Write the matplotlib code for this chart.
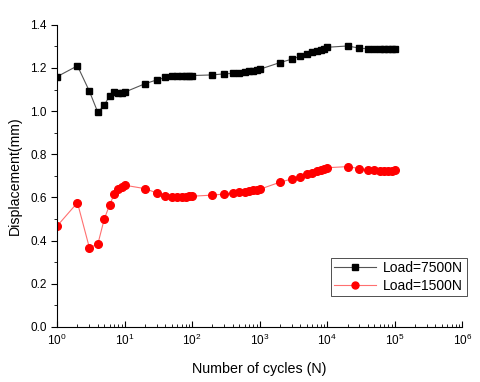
import numpy as np
import matplotlib.pyplot as plt
from matplotlib.ticker import FixedLocator, LogLocator, MultipleLocator

plt.rcParams["font.family"] = ["Liberation Sans", "DejaVu Sans"]

# ciclos (comunes a ambas series)
cycles = [1, 2, 3, 4, 5, 6, 7, 8, 9, 10,
          20, 30, 40, 50, 60, 70, 80, 90, 100,
          200, 300, 400, 500, 600, 700, 800, 900, 1000,
          2000, 3000, 4000, 5000, 6000, 7000, 8000, 9000, 10000,
          20000, 30000, 40000, 50000, 60000, 70000, 80000, 90000, 100000]

# desplazamiento (mm) - Load=7500N
disp_7500 = [1.160, 1.210, 1.093, 0.995, 1.028, 1.072, 1.091, 1.086, 1.086, 1.088,
             1.127, 1.145, 1.156, 1.161, 1.162, 1.163, 1.164, 1.164, 1.165,
             1.168, 1.173, 1.175, 1.178, 1.181, 1.184, 1.187, 1.190, 1.194,
             1.225, 1.241, 1.255, 1.265, 1.273, 1.279, 1.284, 1.289, 1.296,
             1.302, 1.292, 1.289, 1.287, 1.287, 1.286, 1.286, 1.286, 1.287]

# desplazamiento (mm) - Load=1500N
disp_1500 = [0.468, 0.576, 0.368, 0.383, 0.501, 0.566, 0.615, 0.640, 0.650, 0.657,
             0.641, 0.621, 0.607, 0.601, 0.602, 0.603, 0.604, 0.605, 0.606,
             0.611, 0.616, 0.620, 0.624, 0.627, 0.630, 0.633, 0.635, 0.638,
             0.671, 0.686, 0.697, 0.708, 0.715, 0.721, 0.727, 0.732, 0.738,
             0.743, 0.734, 0.728, 0.726, 0.725, 0.725, 0.725, 0.725, 0.726]

x_ticks = [1e0, 1e1, 1e2, 1e3, 1e4, 1e5, 1e6]

fig = plt.figure(figsize=(4.8, 3.82), dpi=100)
ax = fig.add_axes([0.119, 0.144, 0.844, 0.791])

ax.plot(cycles, disp_7500, color="#555555", lw=0.8, marker="s", ms=5,
        mfc="black", mec="black", label="Load=7500N")
ax.plot(cycles, disp_1500, color="#ff7070", lw=0.8, marker="o", ms=5.5,
        mfc="red", mec="red", label="Load=1500N")

ax.set_xscale("log")
ax.set_xlim(1, 1e6)
ax.set_ylim(0, 1.4)
ax.xaxis.set_major_locator(FixedLocator(x_ticks))
ax.xaxis.set_minor_locator(LogLocator(base=10, subs=np.arange(2, 10), numticks=10))
ax.yaxis.set_major_locator(MultipleLocator(0.2))
ax.yaxis.set_minor_locator(MultipleLocator(0.1))
ax.yaxis.set_major_formatter(plt.FormatStrFormatter("%.1f"))

ax.spines["top"].set_visible(False)
ax.spines["right"].set_visible(False)
ax.tick_params(axis="x", which="both", direction="in", labelsize=8.5, pad=4)
ax.tick_params(axis="x", which="major", length=4)
ax.tick_params(axis="x", which="minor", length=2.5)
ax.tick_params(axis="y", which="both", direction="out", labelsize=8.5)
ax.tick_params(axis="y", which="major", length=4)
ax.tick_params(axis="y", which="minor", length=2)

ax.set_xlabel("Number of cycles (N)", fontsize=10.3, labelpad=10)
ax.set_ylabel("Displacement(mm)", fontsize=10.2, labelpad=6)

leg = ax.legend(loc="upper right", bbox_to_anchor=(0.972, 0.325),
                bbox_transform=fig.transFigure, fontsize=10, frameon=True,
                fancybox=False, edgecolor="black", borderpad=0.25,
                handlelength=3.0, labelspacing=0.25, handletextpad=0.5,
                borderaxespad=0)
leg.get_frame().set_linewidth(0.6)
for h in leg.legend_handles:
    h.set_markersize(5)

fig.savefig("out.png", dpi=100)
